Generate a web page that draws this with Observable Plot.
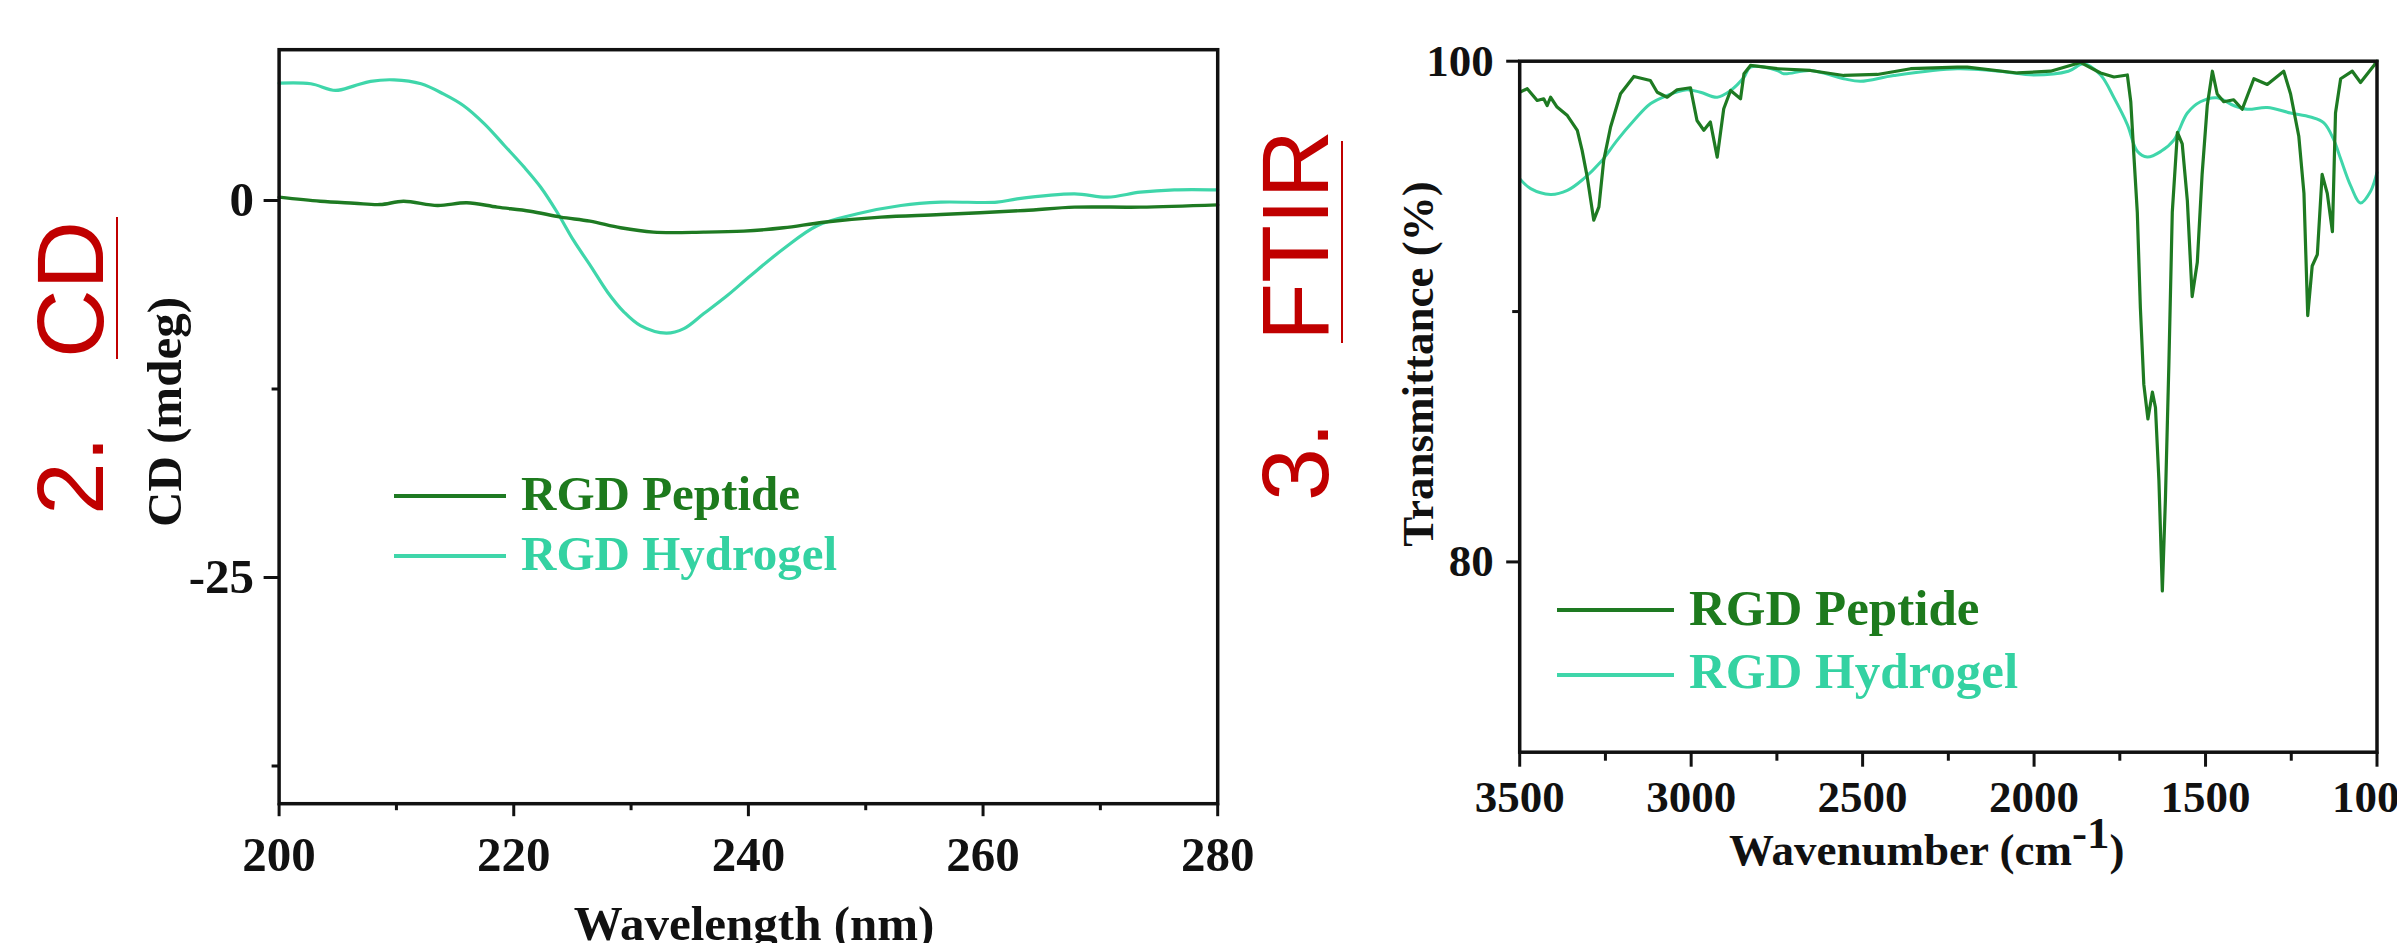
<!DOCTYPE html>
<html>
<head>
<meta charset="utf-8">
<script src="https://cdn.jsdelivr.net/npm/d3@7"></script>
<script src="https://cdn.jsdelivr.net/npm/@observablehq/plot@0.6"></script>
<style>
html, body { margin: 0; padding: 0; background: #fff; overflow: hidden; }
#root { position: relative; width: 2397px; height: 943px; overflow: hidden; background: #fff; }
.abs { position: absolute; white-space: nowrap; line-height: 1; }
.serif { font-family: "Liberation Serif", "Times New Roman", serif; font-weight: bold; color: #111; }
.red { font-family: "Liberation Sans", Arial, sans-serif; font-size: 95px; color: #c00000; transform-origin: 0 0; transform: rotate(-90deg); }
.rot { transform: translate(-50%, -50%) rotate(-90deg); }
.uline { position: absolute; background: #c00000; width: 1.5px; }
.lg { position: absolute; height: 3.2px; }
#root svg { position: absolute; top: 0; max-width: none !important; }
</style>
</head>
<body>
<div id="root"></div>
<script>
// ---------------- data ----------------
// CD spectra (wavelength in nm, CD in mdeg)
const cdPeptideWl = [200, 203.5, 206.4, 208.6, 210.6, 213.5, 216.0, 218.6, 221.4, 224.0, 226.5, 229.1, 231.9, 236.2, 239.6, 243.0, 246.4, 251.3, 256.4, 263.5, 267.8, 273.4, 280];
const cdPeptideCd = [0.22, -0.05, -0.18, -0.27, -0.05, -0.33, -0.15, -0.44, -0.71, -1.1, -1.37, -1.81, -2.1, -2.1, -2.03, -1.81, -1.44, -1.1, -0.93, -0.66, -0.44, -0.44, -0.29];
const cdHydrogelWl = [200, 202.7, 204.8, 206.4, 207.8, 209.8, 212.1, 214.0, 215.7, 217.5, 219.2, 220.9, 222.3, 223.7, 225.1, 226.6, 228.0, 229.4, 230.8, 233.0, 234.5, 236.2, 238.2, 240.2, 243.0, 245.9, 249.3, 253.0, 256.4, 261.2, 262.9, 267.8, 270.6, 273.4, 276.3, 280];
const cdHydrogelCd = [7.78, 7.74, 7.3, 7.6, 7.9, 8.0, 7.74, 7.07, 6.3, 5.08, 3.65, 2.2, 0.88, -0.78, -2.65, -4.4, -6.08, -7.4, -8.3, -8.8, -8.5, -7.5, -6.3, -4.97, -3.2, -1.66, -0.88, -0.33, -0.11, -0.11, 0.11, 0.44, 0.22, 0.55, 0.71, 0.71];

// FTIR spectra (wavenumber in cm-1, transmittance in %)
const ftirPeptideWn = [3500, 3478, 3449, 3430, 3420, 3410, 3391, 3361, 3332, 3318, 3303, 3284, 3269, 3255, 3235, 3206, 3167, 3119, 3099, 3070, 3041, 3002, 2983, 2963, 2944, 2924, 2905, 2885, 2856, 2846, 2827, 2749, 2652, 2555, 2457, 2360, 2224, 2195, 2049, 1952, 1865, 1806, 1767, 1728, 1718, 1709, 1699, 1690, 1680, 1668, 1655, 1646, 1636, 1626, 1617, 1607, 1597, 1582, 1568, 1553, 1539, 1524, 1510, 1495, 1480, 1466, 1447, 1418, 1393, 1359, 1320, 1272, 1252, 1228, 1213, 1202, 1189, 1174, 1160, 1145, 1130, 1121, 1106, 1072, 1048, 1009, 1000];
const ftirPeptideT = [98.76, 98.9, 98.43, 98.5, 98.23, 98.56, 98.17, 97.83, 97.24, 96.44, 95.37, 93.65, 94.18, 96.04, 97.37, 98.7, 99.39, 99.23, 98.76, 98.56, 98.86, 98.94, 97.63, 97.24, 97.57, 96.17, 98.1, 98.83, 98.5, 99.5, 99.83, 99.7, 99.63, 99.43, 99.47, 99.7, 99.76, 99.76, 99.53, 99.6, 99.95, 99.53, 99.37, 99.45, 98.38, 96.25, 93.96, 90.14, 87.09, 85.71, 86.78, 86.17, 83.27, 78.84, 82.5, 87.85, 93.96, 97.16, 96.7, 94.42, 90.6, 91.97, 95.48, 98.23, 99.6, 98.69, 98.38, 98.46, 98.08, 99.3, 99.07, 99.6, 98.69, 97.0, 94.72, 89.84, 91.82, 92.28, 95.48, 94.72, 93.19, 97.93, 99.3, 99.6, 99.15, 99.83, 100];
const ftirHydrogelWn = [3500, 3468, 3410, 3361, 3313, 3264, 3216, 3167, 3119, 3070, 3012, 2973, 2924, 2885, 2846, 2827, 2749, 2730, 2652, 2555, 2506, 2409, 2224, 2100, 2000, 1900, 1855, 1806, 1767, 1728, 1699, 1670, 1630, 1592, 1553, 1515, 1466, 1418, 1379, 1320, 1252, 1194, 1155, 1126, 1106, 1077, 1048, 1019, 1000];
const ftirHydrogelT = [95.31, 94.91, 94.68, 94.84, 95.31, 95.97, 96.84, 97.63, 98.3, 98.63, 98.86, 98.76, 98.56, 98.83, 99.36, 99.76, 99.63, 99.5, 99.63, 99.3, 99.2, 99.43, 99.7, 99.6, 99.45, 99.6, 99.9, 99.45, 98.54, 97.47, 96.4, 96.17, 96.4, 96.86, 97.93, 98.38, 98.54, 98.23, 98.08, 98.15, 97.93, 97.77, 97.54, 96.86, 96.1, 95.03, 94.34, 94.8, 95.56];

// ticks
const cdXTicks = [200, 220, 240, 260, 280];
const cdXMinor = [210, 230, 250, 270];
const cdYTicks = [0, -25];
const cdYMinor = [-12.5, -37.5];
const ftirXTicks = [3500, 3000, 2500, 2000, 1500, 1000];
const ftirXMinor = [3250, 2750, 2250, 1750, 1250];
const ftirYTicks = [100, 80];
const ftirYMinor = [90];

const seriesNames = ["RGD Peptide", "RGD Hydrogel"];

// ---------------- styles ----------------
const PEP = "#1e7a22";
const HYD = "#3fd6aa";
const PEP_TXT = "#1d7a1d";
const HYD_TXT = "#34d2a2";
const SERIF = "Liberation Serif, Times New Roman, serif";
const INK = "#111";

const zip = (xs, ys) => xs.map((x, i) => ({x, y: ys[i]}));

function axisOpts(ticks, size, pad, fs, labels) {
  return {
    ticks, tickSize: size, tickPadding: pad, label: null,
    tickFormat: labels ? (d) => String(d) : () => "",
    fontSize: fs, fontFamily: SERIF, fontWeight: "bold",
    strokeWidth: 3, color: INK
  };
}

const root = document.getElementById("root");

// CD chart
const cdPlot = Plot.plot({
  width: 1140, height: 943,
  marginLeft: 158.6, marginRight: 42.8, marginTop: 49.2, marginBottom: 139.8,
  x: {domain: [200, 280]},
  y: {domain: [-40, 10]},
  marks: [
    Plot.line(zip(cdHydrogelWl, cdHydrogelCd), {x: "x", y: "y", stroke: HYD, strokeWidth: 3.2, curve: "catmull-rom"}),
    Plot.line(zip(cdPeptideWl, cdPeptideCd), {x: "x", y: "y", stroke: PEP, strokeWidth: 3.4, curve: "catmull-rom"}),
    Plot.frame({stroke: INK, strokeWidth: 3.5}),
    Plot.axisX(axisOpts(cdXTicks, 13, 20, 49, true)),
    Plot.axisX(axisOpts(cdXMinor, 7, 0, 49, false)),
    Plot.axisY(axisOpts(cdYTicks, 15, 10, 49, true)),
    Plot.axisY(axisOpts(cdYMinor, 7, 0, 49, false))
  ]
});
cdPlot.style.left = "120px";
root.appendChild(cdPlot);

// FTIR chart
const ftirPlot = Plot.plot({
  width: 1037, height: 943,
  marginLeft: 159.2, marginRight: 20.5, marginTop: 60.7, marginBottom: 191.3,
  x: {domain: [3500, 1000]},
  y: {domain: [72.4, 100]},
  marks: [
    Plot.line(zip(ftirHydrogelWn, ftirHydrogelT), {x: "x", y: "y", stroke: HYD, strokeWidth: 3, curve: "catmull-rom"}),
    Plot.line(zip(ftirPeptideWn, ftirPeptideT), {x: "x", y: "y", stroke: PEP, strokeWidth: 3.2}),
    Plot.frame({stroke: INK, strokeWidth: 3.5}),
    Plot.axisX(axisOpts(ftirXTicks, 15, 13, 45, true)),
    Plot.axisX(axisOpts(ftirXMinor, 9, 0, 45, false)),
    Plot.axisY(axisOpts(ftirYTicks, 13, 13, 45, true)),
    Plot.axisY(axisOpts(ftirYMinor, 7, 0, 45, false))
  ]
});
ftirPlot.style.left = "1360px";
root.appendChild(ftirPlot);

// ---------------- HTML text & legends ----------------
function addDiv(cls, style, html) {
  const d = document.createElement("div");
  d.className = cls;
  d.setAttribute("style", style);
  d.innerHTML = html;
  root.appendChild(d);
  return d;
}

// axis titles
addDiv("abs serif rot", "font-size:49px; left:163.5px; top:412px;", "CD (mdeg)");
addDiv("abs serif", "font-size:49px; left:754px; top:899px; transform:translateX(-50%);", "Wavelength (nm)");
addDiv("abs serif rot", "font-size:45px; left:1418px; top:364px;", "Transmittance (%)");
addDiv("abs serif", "font-size:45px; left:1729px; top:828px;", "Wavenumber (cm<span style=\"position:relative; top:-17px;\">-1</span>)");

// legends
function legend(x0, len, x1, rows, fs) {
  rows.forEach((r, i) => {
    addDiv("lg", `left:${x0}px; width:${len}px; top:${r.ly - 1.6}px; background:${r.line};`, "");
    addDiv("abs serif", `font-size:${fs}px; left:${x1}px; top:${r.base - 0.8375 * fs}px; color:${r.txt};`, seriesNames[i]);
  });
}
legend(394, 112, 521, [{ly: 496, base: 510, line: PEP, txt: PEP_TXT}, {ly: 556, base: 570, line: HYD, txt: HYD_TXT}], 49);
legend(1557, 117, 1689, [{ly: 610, base: 626, line: PEP, txt: PEP_TXT}, {ly: 675, base: 689, line: HYD, txt: HYD_TXT}], 51);

// red panel labels
addDiv("abs red", "left:22.6px; top:515px;", "2.");
addDiv("abs red", "left:22.6px; top:358px;", "CD");
addDiv("uline", "left:116.3px; top:217px; height:142px;", "");
addDiv("abs red", "left:1247.6px; top:501px;", "3.");
addDiv("abs red", "left:1247.6px; top:341px;", "FTIR");
addDiv("uline", "left:1341.3px; top:141px; height:202px;", "");
</script>
</body>
</html>
